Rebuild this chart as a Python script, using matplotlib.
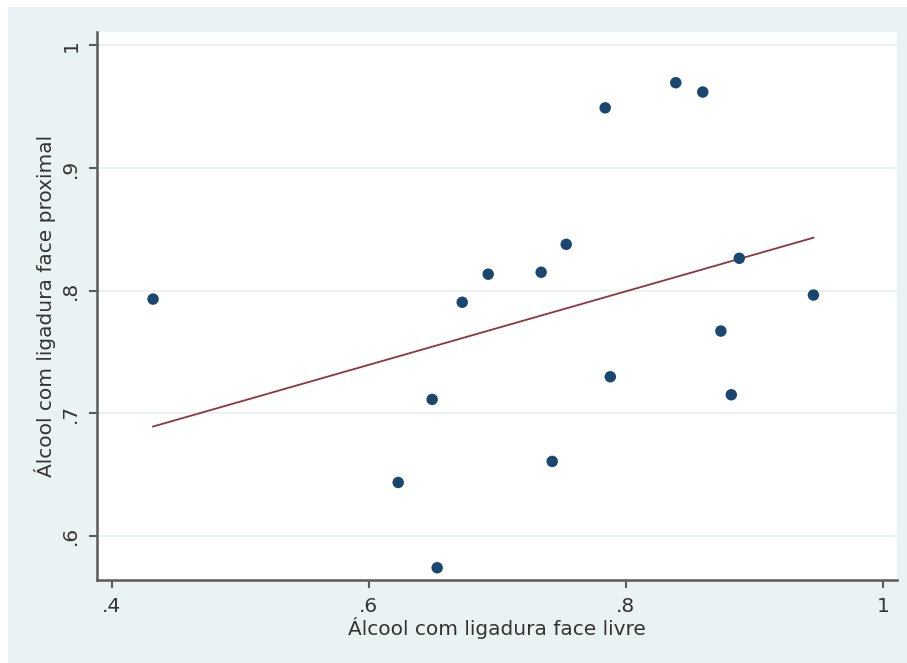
import numpy as np
import matplotlib
matplotlib.use("Agg")
import matplotlib.pyplot as plt
from matplotlib.patches import Rectangle

# Álcool: face livre (x) vs face proximal (y)
face_livre = [0.4323, 0.6230, 0.6494, 0.6533, 0.6728, 0.6930, 0.7342, 0.7537,
              0.7428, 0.7840, 0.7880, 0.8389, 0.8599, 0.8740, 0.8883, 0.8821, 0.9460]
face_proximal = [0.7930, 0.6433, 0.7111, 0.5737, 0.7904, 0.8133, 0.8149, 0.8377,
                 0.6605, 0.9491, 0.7296, 0.9696, 0.9620, 0.7669, 0.8263, 0.7149, 0.7963]

xticks = [0.4, 0.6, 0.8, 1.0]
xtick_labels = [".4", ".6", ".8", "1"]
yticks = [0.6, 0.7, 0.8, 0.9, 1.0]
ytick_labels = [".6", ".7", ".8", ".9", "1"]

navy = "#1a476f"
maroon = "#90353b"
bg = "#eaf2f3"
axis_col = "#5b5b5b"

plt.rcParams["font.family"] = ["DejaVu Sans"]

fig = plt.figure(figsize=(9.07, 6.63), dpi=100)
fig.patch.set_facecolor("white")
fig.patches.append(Rectangle((8 / 907, 0), 1, 656 / 663, transform=fig.transFigure,
                             facecolor=bg, edgecolor="none", zorder=-10))

ax = fig.add_axes([97 / 907, 83 / 663, 800 / 907, 548 / 663])
ax.set_facecolor("white")

x = np.array(face_livre)
y = np.array(face_proximal)

# linear fit over the observed range
b, a = np.polyfit(x, y, 1)
xl = np.array([x.min(), x.max()])
ax.plot(xl, a + b * xl, color=maroon, lw=1.3, zorder=2)

ax.scatter(x, y, s=68, color=navy, edgecolor="none", zorder=3)

ax.set_xlim(0.3887, 1.011)
ax.set_ylim(0.5637, 1.011)

ax.set_xticks(xticks)
ax.set_xticklabels(xtick_labels)
ax.set_yticks(yticks)
ax.set_yticklabels(ytick_labels, rotation=90, va="center")

ax.grid(axis="y", color=bg, lw=1.5, zorder=0)
ax.set_axisbelow(True)

for side in ["top", "right"]:
    ax.spines[side].set_visible(False)
for side in ["left", "bottom"]:
    ax.spines[side].set_color(axis_col)
    ax.spines[side].set_linewidth(1.8)

ax.tick_params(axis="both", direction="out", length=6, width=1.5, color=axis_col,
               labelsize=14.5, labelcolor="#333333", pad=6)

ax.set_xlabel("Álcool com ligadura face livre", fontsize=14.5, color="#333333", labelpad=1)
ax.set_ylabel("Álcool com ligadura face proximal", fontsize=14.5, color="#333333", labelpad=4)

fig.savefig("out.png", dpi=100, facecolor=fig.get_facecolor())
